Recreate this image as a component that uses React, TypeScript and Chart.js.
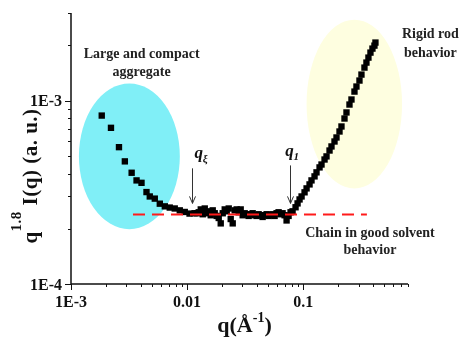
import { useEffect, useRef } from "react";
import { Chart, registerables } from "chart.js";

Chart.register(...registerables);

const FONT = '"Liberation Serif", "Times New Roman", serif';

// ---- Data (q in Å^-1, q^1.8 I(q) in a.u.) ----
const qAggregate = [
  1.84e-3, 2.21e-3, 2.59e-3, 2.91e-3, 3.33e-3, 3.67e-3, 4.05e-3, 4.47e-3, 4.77e-3,
  5.27e-3, 5.82e-3, 6.43e-3, 7.09e-3, 7.83e-3, 8.65e-3, 9.55e-3, 0.0105, 0.0116,
];
const iAggregate = [
  8.28e-4, 7.1e-4, 5.57e-4, 4.66e-4, 4.04e-4, 3.67e-4, 3.56e-4, 3.17e-4, 3.0e-4,
  2.92e-4, 2.74e-4, 2.65e-4, 2.61e-4, 2.58e-4, 2.52e-4, 2.47e-4, 2.42e-4, 2.43e-4,
];
const qPlateau = [
  0.01212, 0.0126, 0.01312, 0.01365, 0.0142, 0.01477, 0.01537, 0.01599, 0.01663, 0.0173,
  0.018, 0.01873, 0.01949, 0.02028, 0.0211, 0.02195, 0.02284, 0.02376, 0.02472, 0.02571,
  0.02675, 0.02783, 0.02896, 0.03013, 0.03134, 0.0326, 0.03392, 0.03529, 0.03672, 0.0382,
  0.03974, 0.04134, 0.04301, 0.04475, 0.04656, 0.04844, 0.0504, 0.05243, 0.05455, 0.05675,
  0.05904, 0.06143, 0.06391, 0.06649, 0.06918, 0.07197, 0.07488, 0.0779, 0.08105,
];
const iPlateau = [
  2.43e-4, 2.46e-4, 2.55e-4, 2.4e-4, 2.58e-4, 2.43e-4, 2.49e-4, 2.37e-4, 2.52e-4, 2.43e-4,
  2.35e-4, 2.29e-4, 2.14e-4, 2.43e-4, 2.55e-4, 2.49e-4, 2.58e-4, 2.26e-4, 2.14e-4, 2.52e-4,
  2.55e-4, 2.46e-4, 2.55e-4, 2.37e-4, 2.43e-4, 2.4e-4, 2.35e-4, 2.4e-4, 2.43e-4, 2.37e-4,
  2.35e-4, 2.4e-4, 2.37e-4, 2.32e-4, 2.37e-4, 2.4e-4, 2.35e-4, 2.37e-4, 2.4e-4, 2.35e-4,
  2.43e-4, 2.46e-4, 2.4e-4, 2.43e-4, 2.37e-4, 2.22e-4, 2.35e-4, 2.46e-4, 2.49e-4,
];
const qRod = [
  0.086, 0.0895, 0.0931, 0.0969, 0.1028, 0.107, 0.1135, 0.118, 0.1253, 0.1303,
  0.1384, 0.1439, 0.1528, 0.1589, 0.1687, 0.1754, 0.1862, 0.1937, 0.2056, 0.2138,
  0.227, 0.2361, 0.2506, 0.2607, 0.2767, 0.2878, 0.3055, 0.3178, 0.3373, 0.3508,
  0.365, 0.3799, 0.3952, 0.4111, 0.4194,
];
const iRod = [
  2.62e-4, 2.75e-4, 2.89e-4, 3.0e-4, 3.16e-4, 3.32e-4, 3.49e-4, 3.67e-4, 3.86e-4, 4.06e-4,
  4.32e-4, 4.48e-4, 4.77e-4, 4.96e-4, 5.34e-4, 5.62e-4, 5.98e-4, 6.29e-4, 6.78e-4, 7.22e-4,
  7.98e-4, 8.61e-4, 9.51e-4, 1.013e-3, 1.119e-3, 1.192e-3, 1.285e-3, 1.385e-3, 1.512e-3, 1.61e-3,
  1.714e-3, 1.825e-3, 1.919e-3, 1.992e-3, 2.07e-3,
];

// Good-solvent plateau reference line
const plateauLevel = 2.39e-4;
const plateauRange = [3.42e-3, 0.354];

// Axes
const xRange = [1e-3, 0.8];
const yRange = [1e-4, 3e-3];
const xMajorTicks = [1e-3, 0.01, 0.1];
const xTickLabels = ["1E-3", "0.01", "0.1"];
const xMinorTicks = [
  2e-3, 3e-3, 4e-3, 5e-3, 6e-3, 7e-3, 8e-3, 9e-3,
  0.02, 0.03, 0.04, 0.05, 0.06, 0.07, 0.08, 0.09,
  0.2, 0.3, 0.4, 0.5, 0.6, 0.7, 0.8,
];
const yMajorTicks = [1e-4, 1e-3];
const yTickLabels = ["1E-4", "1E-3"];
const yMinorTicks = [2e-4, 3e-4, 4e-4, 5e-4, 6e-4, 7e-4, 8e-4, 9e-4, 2e-3, 3e-3];

// Annotations (data coordinates)
const ellipses = [
  { q: [1.17e-3, 8.66e-3], i: [1.99e-4, 1.24e-3], color: "#80eff7" },
  { q: [0.107, 0.711], i: [3.32e-4, 2.76e-3], color: "#fefee0" },
];
const textNotes = [
  { lines: ["Large and compact", "aggregate"], q: 4.06e-3, i: [1.78e-3, 1.42e-3] },
  { lines: ["Rigid rod", "behavior"], q: 1.246, i: [2.29e-3, 1.8e-3] },
  { lines: ["Chain in good solvent", "behavior"], q: 0.376, i: [1.894e-4, 1.526e-4] },
];
const arrowNotes = [
  { label: "q", sub: "\u03be", q: 0.01097, labelQ: 0.0126, labelI: 5.02e-4, from: 4.27e-4, to: 2.75e-4 },
  { label: "q", sub: "1", q: 0.0764, labelQ: 0.0764, labelI: 5.15e-4, from: 4.43e-4, to: 2.75e-4 },
];

const toPoints = (qs: number[], is: number[]) => qs.map((q, k) => ({ x: q, y: is[k] }));

const decorPlugin = {
  id: "decor",
  beforeDatasetsDraw(chart: any) {
    const { ctx } = chart;
    const xs = chart.scales.x;
    const ys = chart.scales.y;
    ctx.save();
    for (const e of ellipses) {
      const x1 = xs.getPixelForValue(e.q[0]);
      const x2 = xs.getPixelForValue(e.q[1]);
      const y1 = ys.getPixelForValue(e.i[1]);
      const y2 = ys.getPixelForValue(e.i[0]);
      ctx.beginPath();
      ctx.ellipse((x1 + x2) / 2, (y1 + y2) / 2, (x2 - x1) / 2, (y2 - y1) / 2, 0, 0, Math.PI * 2);
      ctx.fillStyle = e.color;
      ctx.fill();
    }
    ctx.restore();
  },
  afterDraw(chart: any) {
    const { ctx, chartArea } = chart;
    const xs = chart.scales.x;
    const ys = chart.scales.y;
    const { left, right, top, bottom } = chartArea;
    ctx.save();

    // axes
    ctx.strokeStyle = "#111";
    ctx.lineWidth = 1.5;
    ctx.beginPath();
    ctx.moveTo(left, top);
    ctx.lineTo(left, bottom);
    ctx.lineTo(right, bottom);
    ctx.stroke();

    ctx.lineWidth = 1;
    ctx.beginPath();
    for (const t of xMajorTicks) {
      const x = Math.round(xs.getPixelForValue(t)) + 0.5;
      ctx.moveTo(x, bottom);
      ctx.lineTo(x, bottom + 6);
    }
    for (const t of xMinorTicks) {
      const x = Math.round(xs.getPixelForValue(t)) + 0.5;
      ctx.moveTo(x, bottom);
      ctx.lineTo(x, bottom + 3);
    }
    for (const t of yMajorTicks) {
      const y = Math.round(ys.getPixelForValue(t)) + 0.5;
      ctx.moveTo(left, y);
      ctx.lineTo(left - 6, y);
    }
    for (const t of yMinorTicks) {
      const y = Math.round(ys.getPixelForValue(t)) + 0.5;
      ctx.moveTo(left, y);
      ctx.lineTo(left - 3, y);
    }
    ctx.stroke();

    // tick labels
    ctx.fillStyle = "#111";
    ctx.font = `bold 16px ${FONT}`;
    ctx.textBaseline = "alphabetic";
    ctx.textAlign = "center";
    xMajorTicks.forEach((t, k) => {
      ctx.fillText(xTickLabels[k], xs.getPixelForValue(t), bottom + 23);
    });
    ctx.textAlign = "right";
    yMajorTicks.forEach((t, k) => {
      ctx.fillText(yTickLabels[k], left - 9, ys.getPixelForValue(t) + 5.5);
    });

    const drawPieces = (
      pieces: { t: string; size: number; dy: number }[],
      cx: number,
      base: number,
      spacing: number
    ) => {
      const widths: number[] = [];
      let total = 0;
      for (const p of pieces) {
        ctx.font = `bold ${p.size}px ${FONT}`;
        const w = ctx.measureText(p.t).width + spacing * p.t.length;
        widths.push(w);
        total += w;
      }
      let x = cx - total / 2;
      ctx.textAlign = "left";
      pieces.forEach((p, k) => {
        ctx.font = `bold ${p.size}px ${FONT}`;
        let cx2 = x;
        for (const ch of p.t) {
          ctx.fillText(ch, cx2, base - p.dy);
          cx2 += ctx.measureText(ch).width + spacing;
        }
        x += widths[k];
      });
    };

    // x title: q(Å^-1)
    drawPieces(
      [
        { t: "q(\u00c5", size: 22, dy: 0 },
        { t: "-1", size: 14, dy: 10 },
        { t: ")", size: 22, dy: 0 },
      ],
      (left + right) / 2 + 5,
      332,
      0
    );

    // y title (rotated)
    ctx.save();
    ctx.translate(37, 176);
    ctx.rotate(-Math.PI / 2);
    drawPieces(
      [
        { t: "q", size: 21, dy: 0 },
        { t: "1.8", size: 15, dy: 16 },
        { t: " I(q) (a. u.)", size: 21, dy: 0 },
      ],
      0,
      0,
      0.5
    );
    ctx.restore();

    // text notes
    ctx.font = `bold 14px ${FONT}`;
    ctx.textAlign = "center";
    ctx.textBaseline = "middle";
    ctx.fillStyle = "#222";
    for (const n of textNotes) {
      n.lines.forEach((line, k) => {
        ctx.fillText(line, xs.getPixelForValue(n.q), ys.getPixelForValue(n.i[k]));
      });
    }

    // arrows + q labels
    for (const a of arrowNotes) {
      const x = Math.round(xs.getPixelForValue(a.q)) + 0.5;
      const y1 = ys.getPixelForValue(a.from);
      const y2 = ys.getPixelForValue(a.to);
      ctx.strokeStyle = "#333";
      ctx.lineWidth = 1;
      ctx.beginPath();
      ctx.moveTo(x, y1);
      ctx.lineTo(x, y2);
      ctx.moveTo(x - 3, y2 - 7);
      ctx.lineTo(x, y2);
      ctx.lineTo(x + 3, y2 - 7);
      ctx.stroke();

      const lx = xs.getPixelForValue(a.labelQ);
      const ly = ys.getPixelForValue(a.labelI);
      ctx.fillStyle = "#111";
      ctx.textBaseline = "alphabetic";
      ctx.textAlign = "center";
      ctx.font = `italic bold 17px ${FONT}`;
      ctx.fillText(a.label, lx, ly + 3);
      ctx.font = `italic bold 11px ${FONT}`;
      ctx.textAlign = "left";
      ctx.fillText(a.sub, lx + 4, ly + 7);
    }

    ctx.restore();
  },
};

export default function App() {
  const canvasRef = useRef<HTMLCanvasElement | null>(null);

  useEffect(() => {
    const canvas = canvasRef.current;
    if (!canvas) return;
    const points = [
      ...toPoints(qAggregate, iAggregate),
      ...toPoints(qPlateau, iPlateau),
      ...toPoints(qRod, iRod),
    ];
    const chart = new Chart(canvas, {
      type: "scatter",
      data: {
        datasets: [
          {
            label: "plateau",
            data: [
              { x: plateauRange[0], y: plateauLevel },
              { x: plateauRange[1], y: plateauLevel },
            ],
            showLine: true,
            borderColor: "#ff1a1a",
            borderWidth: 2,
            borderDash: [12, 7],
            pointRadius: 0,
            order: 0,
          },
          {
            label: "data",
            data: points,
            pointStyle: "rect",
            pointRadius: 4.5,
            pointHoverRadius: 4.5,
            backgroundColor: "#000",
            borderWidth: 0,
            order: 1,
          },
        ],
      },
      options: {
        animation: false,
        responsive: false,
        events: [],
        layout: { padding: { left: 71, right: 53, top: 13, bottom: 53 } },
        scales: {
          x: { type: "logarithmic", min: xRange[0], max: xRange[1], display: false },
          y: { type: "logarithmic", min: yRange[0], max: yRange[1], display: false },
        },
        plugins: { legend: { display: false }, tooltip: { enabled: false } },
      },
      plugins: [decorPlugin],
    });
    return () => chart.destroy();
  }, []);

  return (
    <div style={{ position: "absolute", left: 0, top: 0, width: 461, height: 337, background: "#fff" }}>
      <canvas ref={canvasRef} width={461} height={337} style={{ width: 461, height: 337 }} />
    </div>
  );
}
